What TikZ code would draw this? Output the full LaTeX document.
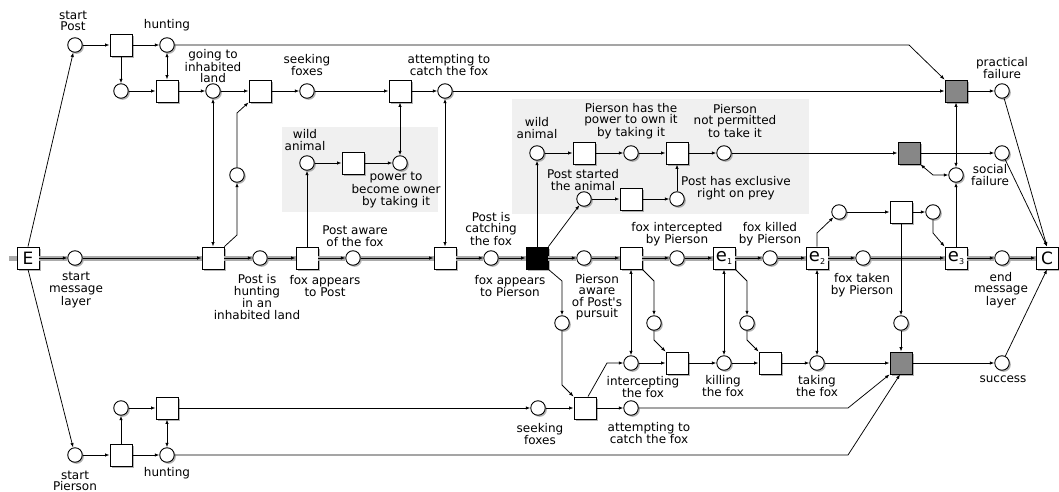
\documentclass[tikz,border=0pt]{standalone}
\usepackage{fontspec}
\setmainfont{DejaVu Sans}
\usetikzlibrary{arrows.meta,shadows}
\newcommand\esub[1]{{\fontsize{18}{18}\selectfont e}\raisebox{-2.5pt}{\fontsize{8}{8}\selectfont #1}}
\begin{document}
\begin{tikzpicture}[x=1pt,y=-1pt,
  shad/.style={drop shadow={shadow xshift=1.6pt,shadow yshift=-1.6pt,fill=black!50,opacity=0.6}},
  place/.style={circle,draw,line width=0.9pt,fill=white,minimum size=14.5pt,inner sep=0pt,shad},
  trans/.style={rectangle,draw,line width=0.9pt,fill=white,minimum size=22pt,inner sep=0pt,shad},
  gtrans/.style={trans,fill=black!47},
  btrans/.style={trans,fill=black},
  big/.style={font=\fontsize{17}{17}\selectfont},
  lbl/.style={font=\fontsize{12}{11.5}\selectfont,align=center,inner sep=0pt},
  arc/.style={line width=0.75pt,-{Latex[length=4.5pt,width=3.4pt]}},
  darc/.style={line width=0.75pt,{Latex[length=4.5pt,width=3.4pt]}-{Latex[length=4.5pt,width=3.4pt]}},
  band/.style={line width=5pt,black!33},
  boxfill/.style={fill=black!6,draw=none},
]
\useasboundingbox (0,0) rectangle (1059,492);
% shaded boxes
\fill[boxfill] (282,127) rectangle (438,212);
\fill[boxfill] (512,99) rectangle (809,214);

% main line nodes
\node[trans,big] (E) at (28,258) {E};
\node[place] (smL) at (75,258) {};
\node[trans] (T1m) at (213,258) {};
\node[place] (PiH) at (260,258) {};
\node[trans] (FAP) at (307,258) {};
\node[place] (PAF) at (353,258) {};
\node[trans] (T2m) at (445,258) {};
\node[place] (PIC) at (491,258) {};
\node[btrans] (BLK) at (537,258) {};
\node[place] (PAW) at (584,258) {};
\node[trans] (TINT) at (631,258) {};
\node[place] (FIP) at (677,258) {};
\node[trans] (e1) at (724,258) {\esub{1}};
\node[place] (FKP) at (770,258) {};
\node[trans] (e2) at (817,258) {\esub{2}};
\node[place] (FTP) at (863,258) {};
\node[trans] (e3) at (956,258) {\esub{3}};
\node[place] (EML) at (1002,258) {};
\node[trans,big] (C) at (1047,258) {C};

% top (Post)
\node[place] (sP) at (75,45) {};
\node[trans] (Ta) at (121,45) {};
\node[place] (hunt1) at (167,45) {};
\node[place] (pa) at (121,91) {};
\node[trans] (Tb) at (167,91) {};
\node[place] (goP) at (213,91) {};
\node[trans] (Tc) at (260,91) {};
\node[place] (seekP) at (307,91) {};
\node[trans] (Td) at (400,91) {};
\node[place] (attP) at (445,91) {};
\node[gtrans] (gT1) at (956,91) {};
\node[place] (pf) at (1002,91) {};
\node[place] (pc) at (237,175) {};

% box 1
\node[place] (wa1) at (307,163) {};
\node[trans] (Tw1) at (353,163) {};
\node[place] (pow1) at (400,163) {};

% box 2
\node[place] (wa2) at (537,153) {};
\node[trans] (Tw2) at (584,153) {};
\node[place] (phP) at (631,153) {};
\node[trans] (Tw3) at (677,153) {};
\node[place] (npP) at (724,153) {};
\node[place] (psa) at (584,199) {};
\node[trans] (Tps) at (631,199) {};
\node[place] (excl) at (677,199) {};

% right middle
\node[gtrans] (gT2) at (909,153) {};
\node[place] (sf) at (1002,153) {};
\node[place] (pq) at (956,175) {};
\node[place] (pe2) at (839,212) {};
\node[trans] (Tr) at (901,212) {};
\node[place] (pr) at (933,212) {};

% lower (Pierson)
\node[place] (pbk) at (562,323) {};
\node[place] (pti) at (654,323) {};
\node[place] (pe1) at (747,323) {};
\node[place] (pTr) at (901,323) {};
\node[place] (intP) at (631,363) {};
\node[trans] (Tint2) at (677,363) {};
\node[place] (kilP) at (724,363) {};
\node[trans] (Tk) at (770,363) {};
\node[place] (takP) at (817,363) {};
\node[gtrans] (gT3) at (901,363) {};
\node[place] (succ) at (1002,363) {};
\node[place] (seekPi) at (538,408) {};
\node[trans] (Tp) at (585,408) {};
\node[place] (attPi) at (631,408) {};
\node[place] (sPi) at (75,455) {};
\node[trans] (Te) at (121,455) {};
\node[place] (hunt2) at (167,455) {};
\node[place] (pb) at (121,408) {};
\node[trans] (Tf) at (167,408) {};

% message layer
\draw[band] (9,258) -- (E.west);
\foreach \a/\b in {E/smL,smL/T1m,T1m/PiH,PiH/FAP,FAP/PAF,PAF/T2m,T2m/PIC,PIC/BLK,BLK/PAW,PAW/TINT,TINT/FIP,FIP/e1,e1/FKP,FKP/e2,e2/FTP,FTP/e3,e3/EML,EML/C}{
  \draw[band] (\a) -- (\b);
  \draw[arc] (\a) -- (\b);
}

% arcs top
\draw[arc] (E.north) -- (sP);
\draw[arc] (E.south) -- (sPi);
\draw[arc] (sP) -- (Ta);
\draw[arc] (Ta) -- (hunt1);
\draw[arc] (Ta) -- (pa);
\draw[arc] (pa) -- (Tb);
\draw[darc] (hunt1) -- (Tb);
\draw[arc] (Tb) -- (goP);
\draw[arc] (goP) -- (Tc);
\draw[arc] (Tc) -- (seekP);
\draw[arc] (seekP) -- (Td);
\draw[arc] (Td) -- (attP);
\draw[arc] (attP) -- (gT1);
\draw[arc] (hunt1) -- (909,45) -- (gT1.north west);
\draw[arc] (gT1) -- (pf);
\draw[arc] (pf) -- (C.north);
\draw[darc] (gT1) -- (pq);
\draw[darc] (pq) -- (933,175) -- (gT2.south east);
\draw[arc] (e3) -- (pq);
\draw[arc] (npP) -- (gT2);
\draw[arc] (gT2) -- (sf);
\draw[arc] (sf) -- (C.north);
\draw[darc] (T1m) -- (goP);
\draw[arc] (T1m.north east) -- (237,235) -- (pc);
\draw[arc] (pc) -- (237,113) -- (Tc.south west);
\draw[arc] (FAP) -- (wa1);
\draw[arc] (wa1) -- (Tw1);
\draw[arc] (Tw1) -- (pow1);
\draw[darc] (Td) -- (pow1);
\draw[darc] (T2m) -- (attP);
\draw[arc] (BLK) -- (wa2);
\draw[arc] (BLK.north east) -- (psa);
\draw[arc] (psa) -- (Tps);
\draw[arc] (Tps) -- (excl);
\draw[arc] (excl) -- (Tw3);
\draw[arc] (wa2) -- (Tw2);
\draw[arc] (Tw2) -- (phP);
\draw[arc] (phP) -- (Tw3);
\draw[arc] (Tw3) -- (npP);

% arcs lower
\draw[arc] (BLK.south east) -- (562,281) -- (pbk);
\draw[arc] (pbk) -- (562,385) -- (Tp.north west);
\draw[arc] (TINT.south east) -- (654,281) -- (pti);
\draw[arc] (pti) -- (654,340) -- (Tint2.north west);
\draw[arc] (e1.south east) -- (747,281) -- (pe1);
\draw[arc] (pe1) -- (747,340) -- (Tk.north west);
\draw[darc] (TINT) -- (intP);
\draw[darc] (e1) -- (kilP);
\draw[darc] (e2) -- (takP);
\draw[arc] (intP) -- (Tint2);
\draw[arc] (Tint2) -- (kilP);
\draw[arc] (kilP) -- (Tk);
\draw[arc] (Tk) -- (takP);
\draw[arc] (takP) -- (gT3);
\draw[arc] (gT3) -- (succ);
\draw[arc] (succ) -- (C.south);
\draw[arc] (e2.north) -- (817,233) -- (pe2);
\draw[arc] (pe2) -- (Tr);
\draw[arc] (Tr) -- (pr);
\draw[arc] (pr) -- (933,233) -- (e3.north west);
\draw[arc] (Tr) -- (pTr);
\draw[arc] (pTr) -- (gT3);
\draw[arc] (seekPi) -- (Tp);
\draw[arc] (Tp) -- (attPi);
\draw[arc] ([xshift=3pt]Tp.north) -- (607,363) -- (intP);
\draw[arc] (attPi) -- (848,408) -- (gT3.south west);
\draw[arc] (hunt2) -- (848,455) -- ([xshift=-1pt]gT3.south);
\draw[arc] (Tf) -- (seekPi);
\draw[arc] (sPi) -- (Te);
\draw[arc] (Te) -- (hunt2);
\draw[arc] (Te) -- (pb);
\draw[arc] (pb) -- (Tf);
\draw[darc] (hunt2) -- (Tf);

% labels
\node[lbl] (l01) at (73,21) {start\\Post};
\node[lbl] (l02) at (167,25) {hunting};
\node[lbl] (l03) at (213,66) {going to\\inhabited\\land};
\node[lbl] (l04) at (307,65) {seeking\\foxes};
\node[lbl] (l05) at (449,65) {attempting to\\catch the fox};
\node[lbl] (l06) at (1002,68) {practical\\failure};
\node[lbl] (l07) at (305,140) {wild\\animal};
\node[lbl] (l08) at (396,190) {power to\\become owner\\by taking it};
\node[lbl] (l09) at (537,128) {wild\\animal};
\node[lbl] (l10) at (631,121) {Pierson has the\\power to own it\\by taking it};
\node[lbl] (l11) at (735,121) {Pierson\\not permitted\\to take it};
\node[lbl] (l12) at (583,180) {Post started\\the animal};
\node[lbl] (l13) at (736,188) {Post has exclusive\\right on prey};
\node[lbl] (l14) at (990,175) {social\\failure};
\node[lbl] (l15) at (76,290) {start\\message\\layer};
\node[lbl] (l16) at (257,297) {Post is\\hunting\\in an\\inhabited land};
\node[lbl] (l17) at (325,286) {fox appears\\to Post};
\node[lbl] (l18) at (355,236) {Post aware\\of the fox};
\node[lbl] (l19) at (491,229) {Post is\\catching\\the fox};
\node[lbl] (l20) at (510,286) {fox appears\\to Pierson};
\node[lbl] (l21) at (597,297) {Pierson\\aware\\of Post\textquotesingle s\\pursuit};
\node[lbl] (l22) at (677,234) {fox intercepted\\by Pierson};
\node[lbl] (l23) at (770,234) {fox killed\\by Pierson};
\node[lbl] (l24) at (862,285) {fox taken\\by Pierson};
\node[lbl] (l25) at (1001,290) {end\\message\\layer};
\node[lbl] (l26) at (643,387) {intercepting\\the fox};
\node[lbl] (l27) at (723,386) {killing\\the fox};
\node[lbl] (l28) at (817,386) {taking\\the fox};
\node[lbl] (l29) at (1003,379) {success};
\node[lbl] (l30) at (540,434) {seeking\\foxes};
\node[lbl] (l31) at (649,433) {attempting to\\catch the fox};
\node[lbl] (l32) at (75,481) {start\\Pierson};
\node[lbl] (l33) at (167,473) {hunting};
\end{tikzpicture}
\end{document}
